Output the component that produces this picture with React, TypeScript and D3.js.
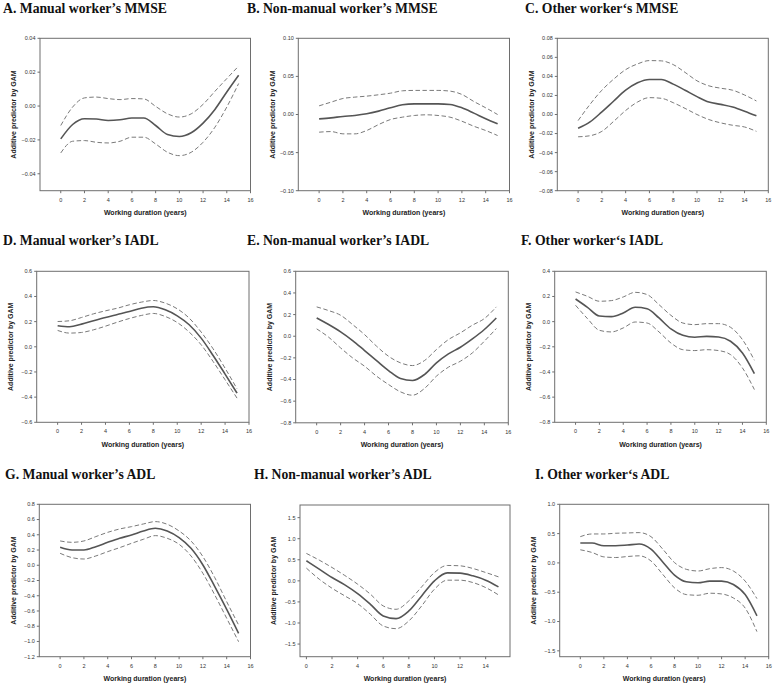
import React from "react";
import * as d3 from "d3";

// ---------- data ----------
const years = [0, 1, 2, 3, 4, 5, 6, 7, 8, 9, 10, 11, 12, 13, 14, 15];

const titles = [
  "A. Manual worker\u2019s MMSE",
  "B. Non-manual worker\u2019s MMSE",
  "C. Other worker\u2018s MMSE",
  "D. Manual worker\u2019s IADL",
  "E. Non-manual worker\u2019s IADL",
  "F. Other worker\u2018s IADL",
  "G. Manual worker\u2019s ADL",
  "H. Non-manual worker\u2019s ADL",
  "I. Other worker\u2018s ADL",
];

const yLabel = "Additive predictor by GAM";
const xLabel = "Working duration (years)";

// A. Manual MMSE
const aFit = [-0.0194, -0.0109, -0.0075, -0.0077, -0.0085, -0.0081, -0.0071, -0.0071, -0.0115, -0.0168, -0.018, -0.0158, -0.0101, -0.002, 0.0083, 0.0182];
const aUpper = [-0.0115, -0.0006, 0.0048, 0.0053, 0.0044, 0.0038, 0.0044, 0.0042, -0.0002, -0.0046, -0.0065, -0.0046, 0.001, 0.0087, 0.0162, 0.0236];
const aLower = [-0.0277, -0.0208, -0.0204, -0.0214, -0.0218, -0.0208, -0.0184, -0.0184, -0.0224, -0.0273, -0.0293, -0.0273, -0.0214, -0.0125, -0.0006, 0.0133];
// B. Non-manual MMSE
const bFit = [-0.0057, -0.0044, -0.0026, -0.0013, 0.0009, 0.0044, 0.0088, 0.0127, 0.014, 0.014, 0.014, 0.0132, 0.0088, 0.0018, -0.0057, -0.0123];
const bUpper = [0.0114, 0.0162, 0.021, 0.0228, 0.0241, 0.0259, 0.028, 0.0311, 0.0316, 0.0316, 0.0316, 0.0307, 0.0263, 0.0171, 0.0088, 0.0];
const bLower = [-0.0232, -0.0224, -0.0254, -0.0254, -0.021, -0.0132, -0.0066, -0.0035, -0.0013, -0.0004, -0.0013, -0.0035, -0.0088, -0.0154, -0.021, -0.0276];
// C. Other MMSE
const cFit = [-0.0145, -0.0078, 0.0028, 0.0142, 0.0255, 0.0333, 0.0368, 0.0368, 0.0319, 0.0255, 0.0188, 0.0131, 0.0106, 0.0078, 0.0035, -0.0014];
const cUpper = [-0.0064, 0.0106, 0.0255, 0.0372, 0.0471, 0.0531, 0.0566, 0.0563, 0.0524, 0.0442, 0.0354, 0.0301, 0.0276, 0.0255, 0.0205, 0.0142];
const cLower = [-0.0234, -0.0223, -0.0177, -0.0071, 0.0042, 0.0131, 0.0177, 0.017, 0.0124, 0.0064, 0.0, -0.0053, -0.0088, -0.0113, -0.0131, -0.0177];
// D. Manual IADL
const dFit = [0.167, 0.159, 0.18, 0.207, 0.233, 0.257, 0.281, 0.307, 0.318, 0.294, 0.246, 0.175, 0.069, -0.069, -0.217, -0.368];
const dUpper = [0.201, 0.207, 0.233, 0.262, 0.286, 0.307, 0.334, 0.355, 0.368, 0.347, 0.302, 0.228, 0.117, -0.016, -0.17, -0.334];
const dLower = [0.13, 0.109, 0.114, 0.135, 0.164, 0.196, 0.225, 0.249, 0.265, 0.241, 0.193, 0.117, 0.016, -0.117, -0.262, -0.408];
// E. Non-manual IADL
const eFit = [0.169, 0.108, 0.04, -0.04, -0.132, -0.225, -0.317, -0.391, -0.409, -0.354, -0.246, -0.163, -0.102, -0.025, 0.062, 0.169];
const eUpper = [0.271, 0.237, 0.194, 0.108, 0.015, -0.092, -0.185, -0.246, -0.271, -0.225, -0.123, -0.031, 0.031, 0.102, 0.163, 0.271];
const eLower = [0.068, -0.009, -0.108, -0.2, -0.277, -0.369, -0.446, -0.514, -0.545, -0.483, -0.369, -0.286, -0.231, -0.154, -0.046, 0.071];
// F. Other IADL
const fFit = [0.18, 0.114, 0.045, 0.04, 0.069, 0.114, 0.103, 0.029, -0.058, -0.109, -0.124, -0.117, -0.122, -0.156, -0.249, -0.413];
const fUpper = [0.236, 0.201, 0.162, 0.167, 0.196, 0.233, 0.215, 0.135, 0.05, -0.011, -0.024, -0.016, -0.016, -0.045, -0.143, -0.307];
const fLower = [0.13, 0.024, -0.069, -0.082, -0.05, -0.003, -0.011, -0.082, -0.17, -0.223, -0.23, -0.223, -0.23, -0.262, -0.368, -0.54];
// G. Manual ADL
const gFit = [0.235, 0.2, 0.2, 0.244, 0.301, 0.354, 0.397, 0.45, 0.485, 0.45, 0.362, 0.222, 0.004, -0.281, -0.579, -0.893];
const gUpper = [0.319, 0.301, 0.319, 0.376, 0.432, 0.476, 0.507, 0.542, 0.573, 0.538, 0.45, 0.319, 0.113, -0.163, -0.478, -0.784];
const gLower = [0.157, 0.1, 0.082, 0.122, 0.179, 0.231, 0.288, 0.341, 0.389, 0.354, 0.275, 0.122, -0.106, -0.39, -0.696, -1.003];
// H. Non-manual ADL
const hFit = [0.476, 0.278, 0.079, -0.095, -0.302, -0.556, -0.833, -0.897, -0.714, -0.357, 0.0, 0.19, 0.183, 0.119, 0.016, -0.143];
const hUpper = [0.651, 0.492, 0.317, 0.127, -0.079, -0.317, -0.595, -0.675, -0.476, -0.143, 0.198, 0.365, 0.357, 0.294, 0.198, 0.095];
const hLower = [0.302, 0.04, -0.175, -0.357, -0.54, -0.794, -1.071, -1.135, -0.952, -0.595, -0.198, 0.016, 0.016, -0.04, -0.159, -0.333];
// I. Other ADL
const iFit = [0.339, 0.339, 0.293, 0.293, 0.305, 0.322, 0.236, 0.017, -0.207, -0.322, -0.339, -0.31, -0.31, -0.368, -0.54, -0.902];
const iUpper = [0.448, 0.494, 0.494, 0.506, 0.511, 0.517, 0.448, 0.236, 0.006, -0.109, -0.138, -0.098, -0.08, -0.138, -0.31, -0.609];
const iLower = [0.224, 0.178, 0.103, 0.092, 0.109, 0.121, 0.034, -0.195, -0.425, -0.54, -0.552, -0.517, -0.529, -0.598, -0.77, -1.172];

const fits = [aFit, bFit, cFit, dFit, eFit, fFit, gFit, hFit, iFit];
const uppers = [aUpper, bUpper, cUpper, dUpper, eUpper, fUpper, gUpper, hUpper, iUpper];
const lowers = [aLower, bLower, cLower, dLower, eLower, fLower, gLower, hLower, iLower];

const yDomains = [
  [-0.05, 0.04], [-0.1, 0.1], [-0.08, 0.08],
  [-0.6, 0.6], [-0.8, 0.6], [-0.8, 0.4],
  [-1.2, 0.8], [-1.8, 1.8], [-1.6, 1.0],
];
const yTicks = [
  [-0.04, -0.02, 0, 0.02, 0.04],
  [-0.1, -0.05, 0, 0.05, 0.1],
  [-0.08, -0.06, -0.04, -0.02, 0, 0.02, 0.04, 0.06, 0.08],
  [-0.6, -0.4, -0.2, 0, 0.2, 0.4, 0.6],
  [-0.8, -0.6, -0.4, -0.2, 0, 0.2, 0.4, 0.6],
  [-0.8, -0.6, -0.4, -0.2, 0, 0.2, 0.4],
  [-1.2, -1.0, -0.8, -0.6, -0.4, -0.2, 0, 0.2, 0.4, 0.6, 0.8],
  [-1.5, -1.0, -0.5, 0, 0.5, 1.0, 1.5],
  [-1.5, -1.0, -0.5, 0, 0.5, 1.0],
];
const yDecimals = [2, 2, 2, 1, 1, 1, 1, 1, 1];
const xDomains = [
  [-1.75, 16], [-1.75, 16], [-1.75, 16],
  [-1.75, 16], [-1.75, 16], [-1.75, 16],
  [-1.75, 16], [-0.5, 15.9], [-1.75, 16],
];
const xTicksStd = [0, 2, 4, 6, 8, 10, 12, 14, 16];
const xTicksH = [0, 2, 4, 6, 8, 10, 12, 14];
const xTicks = [xTicksStd, xTicksStd, xTicksStd, xTicksStd, xTicksStd, xTicksStd, xTicksStd, xTicksH, xTicksStd];

// ---------- layout (pixel boxes of each plot area) ----------
const boxes = [
  { l: 40, r: 250.5, t: 38.3, b: 190.7, tx: 3, ty: 13 },
  { l: 298.3, r: 509.5, t: 38.3, b: 190.7, tx: 247, ty: 13 },
  { l: 557.3, r: 768.3, t: 38.3, b: 190.7, tx: 525, ty: 13 },
  { l: 36.7, r: 249, t: 271.3, b: 422.3, tx: 3, ty: 245 },
  { l: 295.7, r: 508.3, t: 271.3, b: 422.8, tx: 247, ty: 245 },
  { l: 554.7, r: 766.3, t: 271.3, b: 422.3, tx: 521, ty: 245 },
  { l: 39.3, r: 250.5, t: 504.3, b: 656.7, tx: 5, ty: 479 },
  { l: 300, r: 510, t: 505, b: 656.7, tx: 254, ty: 479 },
  { l: 559.7, r: 768.7, t: 504.3, b: 656.7, tx: 535, ty: 479 },
];

const SANS = "'Liberation Sans', Arial, sans-serif";
const SERIF = "'Liberation Serif', 'Times New Roman', serif";
const FRAME = "#6e6e6e";

function Panel({ k }: { k: number }) {
  const bx = boxes[k];
  const x = d3.scaleLinear().domain(xDomains[k]).range([bx.l, bx.r]);
  const y = d3.scaleLinear().domain(yDomains[k]).range([bx.b, bx.t]);
  const line = d3
    .line<number>()
    .x((_, i) => x(years[i]))
    .y((v) => y(v))
    .curve(d3.curveMonotoneX);
  const fmt = d3.format(`.${yDecimals[k]}f`);
  const cy = (bx.t + bx.b) / 2;
  return (
    <g>
      <text x={bx.tx} y={bx.ty} fontFamily={SERIF} fontWeight="bold" fontSize={13.7} fill="#111">
        {titles[k]}
      </text>
      <rect x={bx.l} y={bx.t} width={bx.r - bx.l} height={bx.b - bx.t} fill="none" stroke={FRAME} strokeWidth={1} />
      {yTicks[k].map((t) => (
        <g key={"y" + t}>
          <line x1={bx.l - 2.5} x2={bx.l} y1={y(t)} y2={y(t)} stroke={FRAME} strokeWidth={1} />
          <text x={bx.l - 4.5} y={y(t)} dy="0.35em" textAnchor="end" fontFamily={SANS} fontSize={5.5} fill="#333">
            {fmt(t)}
          </text>
        </g>
      ))}
      {xTicks[k].map((t) => (
        <g key={"x" + t}>
          <line x1={x(t)} x2={x(t)} y1={bx.b} y2={bx.b + 2.5} stroke={FRAME} strokeWidth={1} />
          <text x={x(t)} y={bx.b + 9} dy="0.35em" textAnchor="middle" fontFamily={SANS} fontSize={5.5} fill="#333">
            {t}
          </text>
        </g>
      ))}
      <text
        transform={`translate(${bx.l - 26},${cy}) rotate(-90)`}
        textAnchor="middle"
        dy="0.35em"
        fontFamily={SANS}
        fontWeight="bold"
        fontSize={7}
        fill="#222"
      >
        {yLabel}
      </text>
      <text
        x={(bx.l + bx.r) / 2}
        y={bx.b + 22}
        dy="0.35em"
        textAnchor="middle"
        fontFamily={SANS}
        fontWeight="bold"
        fontSize={7}
        fill="#222"
      >
        {xLabel}
      </text>
      <path d={line(uppers[k]) || ""} fill="none" stroke="#7a7a7a" strokeWidth={1} strokeDasharray="4.5,2.5" />
      <path d={line(lowers[k]) || ""} fill="none" stroke="#7a7a7a" strokeWidth={1} strokeDasharray="4.5,2.5" />
      <path d={line(fits[k]) || ""} fill="none" stroke="#555" strokeWidth={1.6} />
    </g>
  );
}

export default function App() {
  return (
    <svg
      width={778}
      height={684}
      viewBox="0 0 778 684"
      style={{ position: "absolute", left: 0, top: 0, background: "#fff" }}
    >
      <rect x={0} y={0} width={778} height={684} fill="#fff" />
      {titles.map((_, k) => (
        <Panel key={k} k={k} />
      ))}
    </svg>
  );
}
